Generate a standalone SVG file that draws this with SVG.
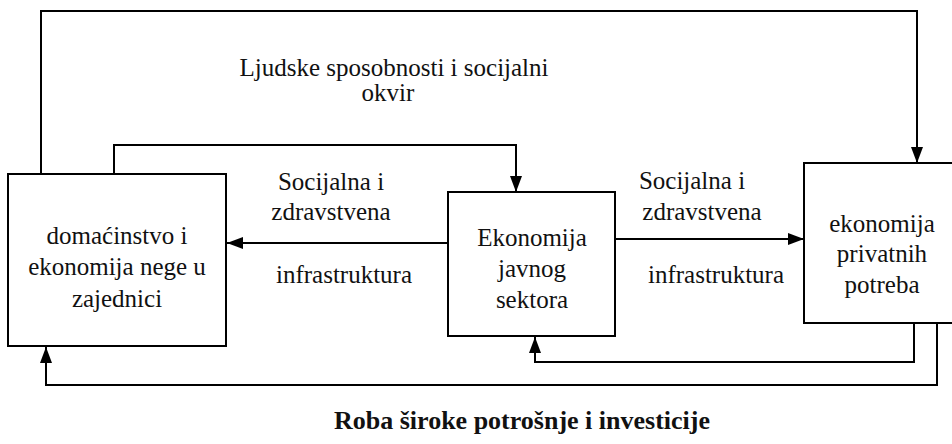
<svg xmlns="http://www.w3.org/2000/svg" width="952" height="444" viewBox="0 0 952 444">
<style>
.box{fill:#fff;stroke:#000;stroke-width:2}
.ln{fill:none;stroke:#000;stroke-width:2}
text{font-family:"Liberation Serif","Times New Roman",serif;font-size:25px;fill:#111}
.c{text-anchor:middle}
.t{font-weight:bold;font-size:26px}
</style>
<defs>
<marker id="ah" markerUnits="userSpaceOnUse" markerWidth="16" markerHeight="12" refX="16" refY="6" orient="auto" viewBox="0 0 16 12">
<path d="M0,0 L16,6 L0,12 z" fill="#000"/>
</marker>
</defs>
<rect width="952" height="444" fill="#fff"/>
<g id="connectors">
<path class="ln" d="M41,174 V11 H917 V163" marker-end="url(#ah)"/>
<path class="ln" d="M114,174 V145 H516 V192" marker-end="url(#ah)"/>
<path class="ln" d="M448,243 H227" marker-end="url(#ah)"/>
<path class="ln" d="M615,239 H804" marker-end="url(#ah)"/>
<path class="ln" d="M914,323 V362 H535 V337" marker-end="url(#ah)"/>
<path class="ln" d="M937,323 V385 H46 V347" marker-end="url(#ah)"/>
</g>
<g id="labels">
<text class="c" x="394" y="76">Ljudske sposobnosti i socijalni</text>
<text class="c" x="388" y="101">okvir</text>
<text class="c" x="331" y="190">Socijalna i</text>
<text class="c" x="331" y="220">zdravstvena</text>
<text class="c" x="344" y="283">infrastruktura</text>
<text class="c" x="692" y="189">Socijalna i</text>
<text class="c" x="702" y="220">zdravstvena</text>
<text class="c" x="716" y="283">infrastruktura</text>
<text class="c t" x="522" y="429">Roba široke potrošnje i investicije</text>
</g>
<g id="node-household">
<rect class="box" x="8" y="174" width="218" height="172"/>
<text class="c" x="117" y="244">domaćinstvo i</text>
<text class="c" x="117" y="275">ekonomija nege u</text>
<text class="c" x="117" y="307">zajednici</text>
</g>
<g id="node-public">
<rect class="box" x="448" y="192" width="167" height="144"/>
<text class="c" x="532" y="246">Ekonomija</text>
<text class="c" x="532" y="277">javnog</text>
<text class="c" x="532" y="308">sektora</text>
</g>
<g id="node-private">
<rect class="box" x="804" y="163" width="160" height="160"/>
<text class="c" x="882" y="232">ekonomija</text>
<text class="c" x="882" y="262">privatnih</text>
<text class="c" x="882" y="293">potreba</text>
</g>
</svg>
